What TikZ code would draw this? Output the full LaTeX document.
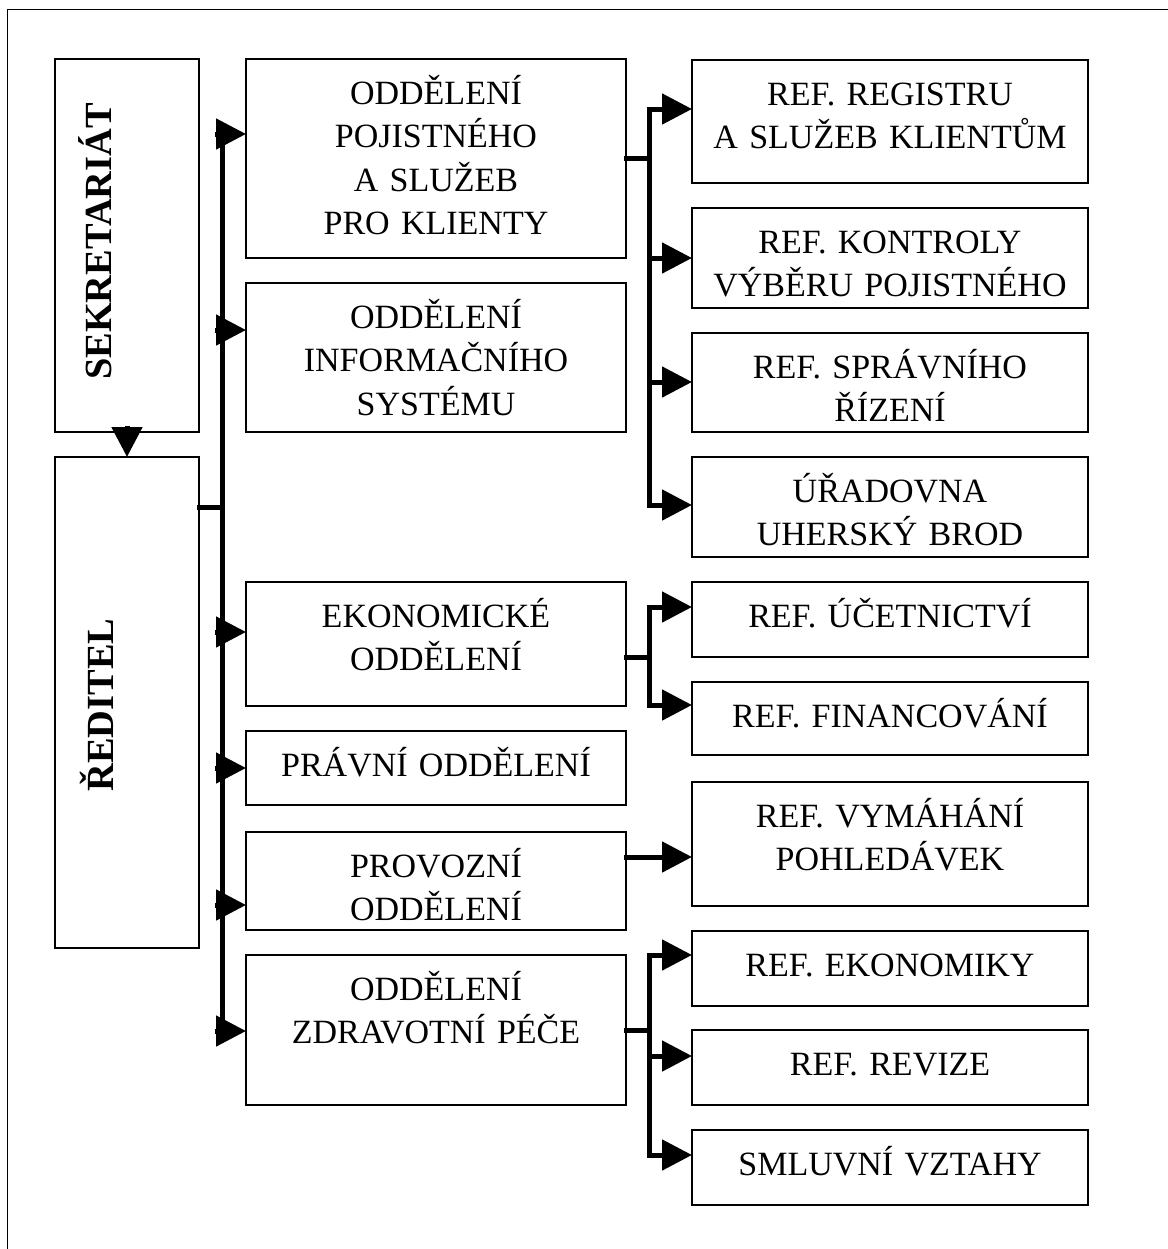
\documentclass[tikz,border=0pt]{standalone}
\usepackage{fontspec}
\setmainfont{Liberation Serif}
\usetikzlibrary{arrows.meta}

\begin{document}
\begin{tikzpicture}[x=0.5pt, y=-0.5pt,
    box/.style={draw, line width=0.75pt, inner sep=0pt, outer sep=0pt},
    txt/.style={anchor=base, align=center, text width=190pt, inner sep=0pt,
                font=\fontsize{17}{21.75}\selectfont},
    vtxt/.style={anchor=base, rotate=90, inner sep=0pt,
                 font=\fontsize{19.2}{23}\selectfont\bfseries},
    bus/.style={line width=2.5pt, line cap=rect},
    arr/.style={line width=2.5pt, line cap=rect, -{Triangle[length=15pt, width=15pt]}}]

    \useasboundingbox (0,0) rectangle (1168,1249);

    %% Frame (cut off at right and bottom)
    \draw[line width=0.75pt] (7.5,1249) -- (7.5,9.5) -- (1168,9.5);

    %% Left column
    \node[box, minimum width=72pt, minimum height=186.5pt] (sekr) at (127,245.5) {};
    \node[vtxt] (sekrT) at (112,241.5) {SEKRETARIÁT};
    \node[box, minimum width=72pt, minimum height=245.5pt] (redit) at (127,702.5) {};
    \node[vtxt] (reditT) at (113,705) {ŘEDITEL};
    \draw[arr] (sekr.south) -- (redit.north);

    %% Departments
    \node[box, minimum width=190pt, minimum height=99.5pt] (pojist) at (436,158.5) {};
    \node[box, minimum width=190pt, minimum height=74.5pt] (inform) at (436,357.5) {};
    \node[box, minimum width=190pt, minimum height=62pt] (ekon) at (436,644) {};
    \node[box, minimum width=190pt, minimum height=37pt] (pravni) at (436,768) {};
    \node[box, minimum width=190pt, minimum height=49pt] (provoz) at (436,881) {};
    \node[box, minimum width=190pt, minimum height=75pt] (zdrav) at (436,1030) {};

    \node[txt] (pojistT) at ([yshift=-22.5pt]pojist.north) {ODDĚLENÍ\\POJISTNÉHO\\A SLUŽEB\\PRO KLIENTY};
    \node[txt] (informT) at ([yshift=-22.5pt]inform.north) {ODDĚLENÍ\\INFORMAČNÍHO\\SYSTÉMU};
    \node[txt] (ekonT) at ([yshift=-22.5pt]ekon.north) {EKONOMICKÉ\\ODDĚLENÍ};
    \node[txt] (pravniT) at ([yshift=-22.5pt]pravni.north) {PRÁVNÍ ODDĚLENÍ};
    \node[txt] (provozT) at ([yshift=-22.5pt]provoz.north) {PROVOZNÍ\\ODDĚLENÍ};
    \node[txt] (zdravT) at ([yshift=-22.5pt]zdrav.north) {ODDĚLENÍ\\ZDRAVOTNÍ PÉČE};

    %% Units
    \node[box, minimum width=198pt, minimum height=61.5pt] (registr) at (890,121.5) {};
    \node[box, minimum width=198pt, minimum height=50pt] (kontrol) at (890,258) {};
    \node[box, minimum width=198pt, minimum height=49.5pt] (spravni) at (890,382.5) {};
    \node[box, minimum width=198pt, minimum height=50pt] (uradovna) at (890,507) {};
    \node[box, minimum width=198pt, minimum height=37.5pt] (ucetni) at (890,619.5) {};
    \node[box, minimum width=198pt, minimum height=36.5pt] (financ) at (890,718.5) {};
    \node[box, minimum width=198pt, minimum height=62pt] (vymah) at (890,844) {};
    \node[box, minimum width=198pt, minimum height=37.5pt] (ekonom) at (890,968.5) {};
    \node[box, minimum width=198pt, minimum height=37.5pt] (revize) at (890,1067.5) {};
    \node[box, minimum width=198pt, minimum height=37.5pt] (smluv) at (890,1167.5) {};

    \node[txt] (registrT) at ([yshift=-22.5pt]registr.north) {REF. REGISTRU\\A SLUŽEB KLIENTŮM};
    \node[txt] (kontrolT) at ([yshift=-22.5pt]kontrol.north) {REF. KONTROLY\\VÝBĚRU POJISTNÉHO};
    \node[txt] (spravniT) at ([yshift=-22.5pt]spravni.north) {REF. SPRÁVNÍHO\\ŘÍZENÍ};
    \node[txt] (uradovnaT) at ([yshift=-22.5pt]uradovna.north) {ÚŘADOVNA\\UHERSKÝ BROD};
    \node[txt] (ucetniT) at ([yshift=-22.5pt]ucetni.north) {REF. ÚČETNICTVÍ};
    \node[txt] (financT) at ([yshift=-22.5pt]financ.north) {REF. FINANCOVÁNÍ};
    \node[txt] (vymahT) at ([yshift=-22.5pt]vymah.north) {REF. VYMÁHÁNÍ\\POHLEDÁVEK};
    \node[txt] (ekonomT) at ([yshift=-22.5pt]ekonom.north) {REF. EKONOMIKY};
    \node[txt] (revizeT) at ([yshift=-22.5pt]revize.north) {REF. REVIZE};
    \node[txt] (smluvT) at ([yshift=-22.5pt]smluv.north) {SMLUVNÍ VZTAHY};

    %% Main bus
    \coordinate (b1) at (222.5,134);
    \coordinate (b2) at (222.5,330);
    \coordinate (b3) at (222.5,632);
    \coordinate (b4) at (222.5,768);
    \coordinate (b5) at (222.5,905);
    \coordinate (b6) at (222.5,1031);
    \coordinate (rj) at (222.5,507);
    \draw[bus] (b1) -- (b6);
    \draw[bus] (rj -| redit.east) -- (rj);
    \draw[arr] (b1) -- (b1 -| pojist.west);
    \draw[arr] (b2) -- (b2 -| inform.west);
    \draw[arr] (b3) -- (b3 -| ekon.west);
    \draw[arr] (b4) -- (b4 -| pravni.west);
    \draw[arr] (b5) -- (b5 -| provoz.west);
    \draw[arr] (b6) -- (b6 -| zdrav.west);

    % Pojistne -> referaty
    \coordinate (c0) at (649,158);
    \coordinate (c1) at (649,109);
    \coordinate (c2) at (649,258);
    \coordinate (c3) at (649,382);
    \coordinate (c4) at (649,505);
    \draw[bus] (c0 -| pojist.east) -- (c0);
    \draw[bus] (c1) -- (c4);
    \draw[arr] (c1) -- (c1 -| registr.west);
    \draw[arr] (c2) -- (c2 -| kontrol.west);
    \draw[arr] (c3) -- (c3 -| spravni.west);
    \draw[arr] (c4) -- (c4 -| uradovna.west);

    % Ekonomicke -> referaty
    \coordinate (d0) at (649,657);
    \coordinate (d1) at (649,607);
    \coordinate (d2) at (649,705);
    \draw[bus] (d0 -| ekon.east) -- (d0);
    \draw[bus] (d1) -- (d2);
    \draw[arr] (d1) -- (d1 -| ucetni.west);
    \draw[arr] (d2) -- (d2 -| financ.west);

    % Provozni -> vymahani
    \coordinate (e0) at (649,857);
    \draw[arr] (e0 -| provoz.east) -- (e0 -| vymah.west);

    % Zdravotni pece -> referaty
    \coordinate (f0) at (649,1030);
    \coordinate (f1) at (649,955);
    \coordinate (f2) at (649,1056);
    \coordinate (f3) at (649,1155);
    \draw[bus] (f0 -| zdrav.east) -- (f0);
    \draw[bus] (f1) -- (f3);
    \draw[arr] (f1) -- (f1 -| ekonom.west);
    \draw[arr] (f2) -- (f2 -| revize.west);
    \draw[arr] (f3) -- (f3 -| smluv.west);

\end{tikzpicture}
\end{document}
